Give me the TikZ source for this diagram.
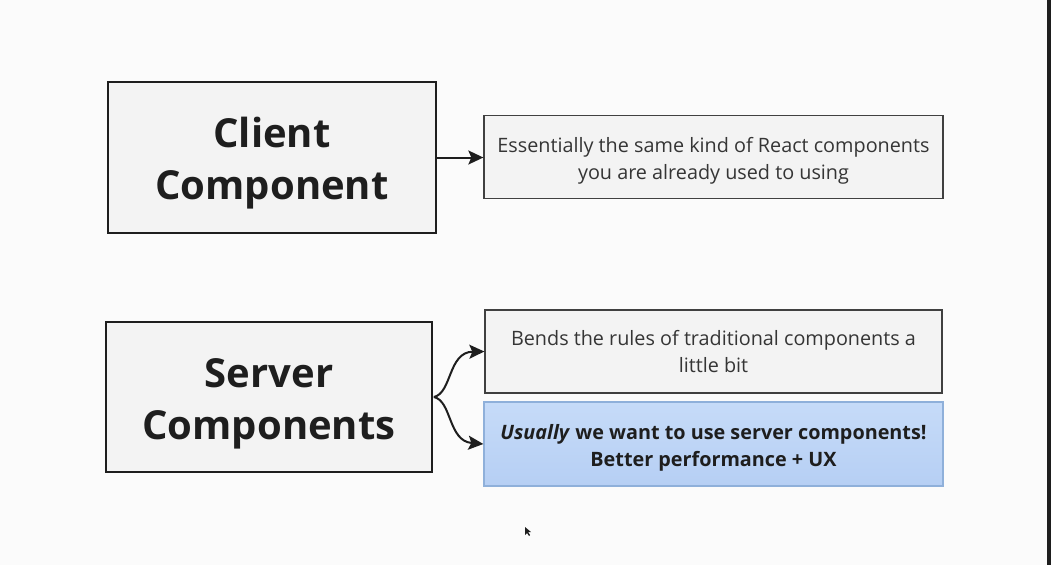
\documentclass[tikz,border=0pt]{standalone}
\usepackage{fontspec}
\setmainfont{Open Sans}
\usetikzlibrary{arrows.meta}
\definecolor{bg}{HTML}{FBFBFB}
\definecolor{boxfill}{HTML}{F3F3F3}
\definecolor{ink}{HTML}{1E1E1E}
\definecolor{bluetop}{HTML}{C6DBF8}
\definecolor{bluebot}{HTML}{B6CFF4}
\definecolor{blueedge}{HTML}{8FB0DA}
\tikzset{
  bigbox/.style={draw=ink, line width=1.8pt, fill=boxfill, inner sep=0pt},
  bigtext/.style={align=center, font=\fontsize{40}{52}\selectfont\bfseries, text=ink, inner sep=0pt},
  smallbox/.style={draw=ink!85, line width=1.3pt, fill=boxfill, inner sep=0pt},
  bluebox/.style={draw=blueedge, line width=1.3pt, top color=bluetop, bottom color=bluebot, inner sep=0pt},
  smalltext/.style={align=center, font=\fontsize{19.8}{27}\selectfont, text=ink!90, inner sep=0pt},
  bluetext/.style={smalltext, font=\fontsize{19.8}{27}\selectfont\bfseries, text=ink},
  conn/.style={draw=ink, line width=2pt, -{Stealth[length=15pt,width=14pt,inset=3pt]}}
}
\begin{document}
\begin{tikzpicture}[x=1pt,y=-1pt]
\fill[bg] (0,0) rectangle (1051,565);
\useasboundingbox (0,0) rectangle (1051,565);
\fill[ink] (1047,0) rectangle (1051,565);

\node[bigbox, minimum width=328pt, minimum height=151pt] (client) at (272,157.5) {};
\node[bigtext] (clienttext) at ([yshift=-6pt]client.center) {Client\\Component};
\node[bigbox, minimum width=326pt, minimum height=150pt] (server) at (269,397) {};
\node[bigtext] (servertext) at ([yshift=-7pt]server.center) {Server\\Components};

\node[smallbox, minimum width=459pt, minimum height=83pt] (same) at (713.5,157) {};
\node[smalltext] (sametext) at ([yshift=-4pt]same.center)
  {Essentially the same kind of React components\\you are already used to using};
\node[smallbox, minimum width=457pt, minimum height=83pt] (bends) at (713.5,351.5) {};
\node[smalltext] (bendstext) at ([yshift=0pt]bends.center)
  {Bends the rules of traditional components a\\little bit};
\node[bluebox, minimum width=459pt, minimum height=84pt] (usually) at (713.5,444) {};
\node[bluetext] (usuallytext) at ([yshift=-4pt]usually.center)
  {\textit{Usually} we want to use server components!\\Better performance + UX};

\draw[conn] (client.east) -- (client.east -| same.west);
\coordinate (fork) at ([xshift=1pt]server.east);
\draw[conn] (fork) .. controls (452,393) and (448,352) .. (bends.west);
\draw[conn] (fork) .. controls (452,401) and (448,441) .. (usually.west);

\fill[ink] (525,527) -- (525,535) -- (527,533) -- (529,536) -- (530,535) -- (528,532) -- (531,532) -- cycle;
\end{tikzpicture}
\end{document}
